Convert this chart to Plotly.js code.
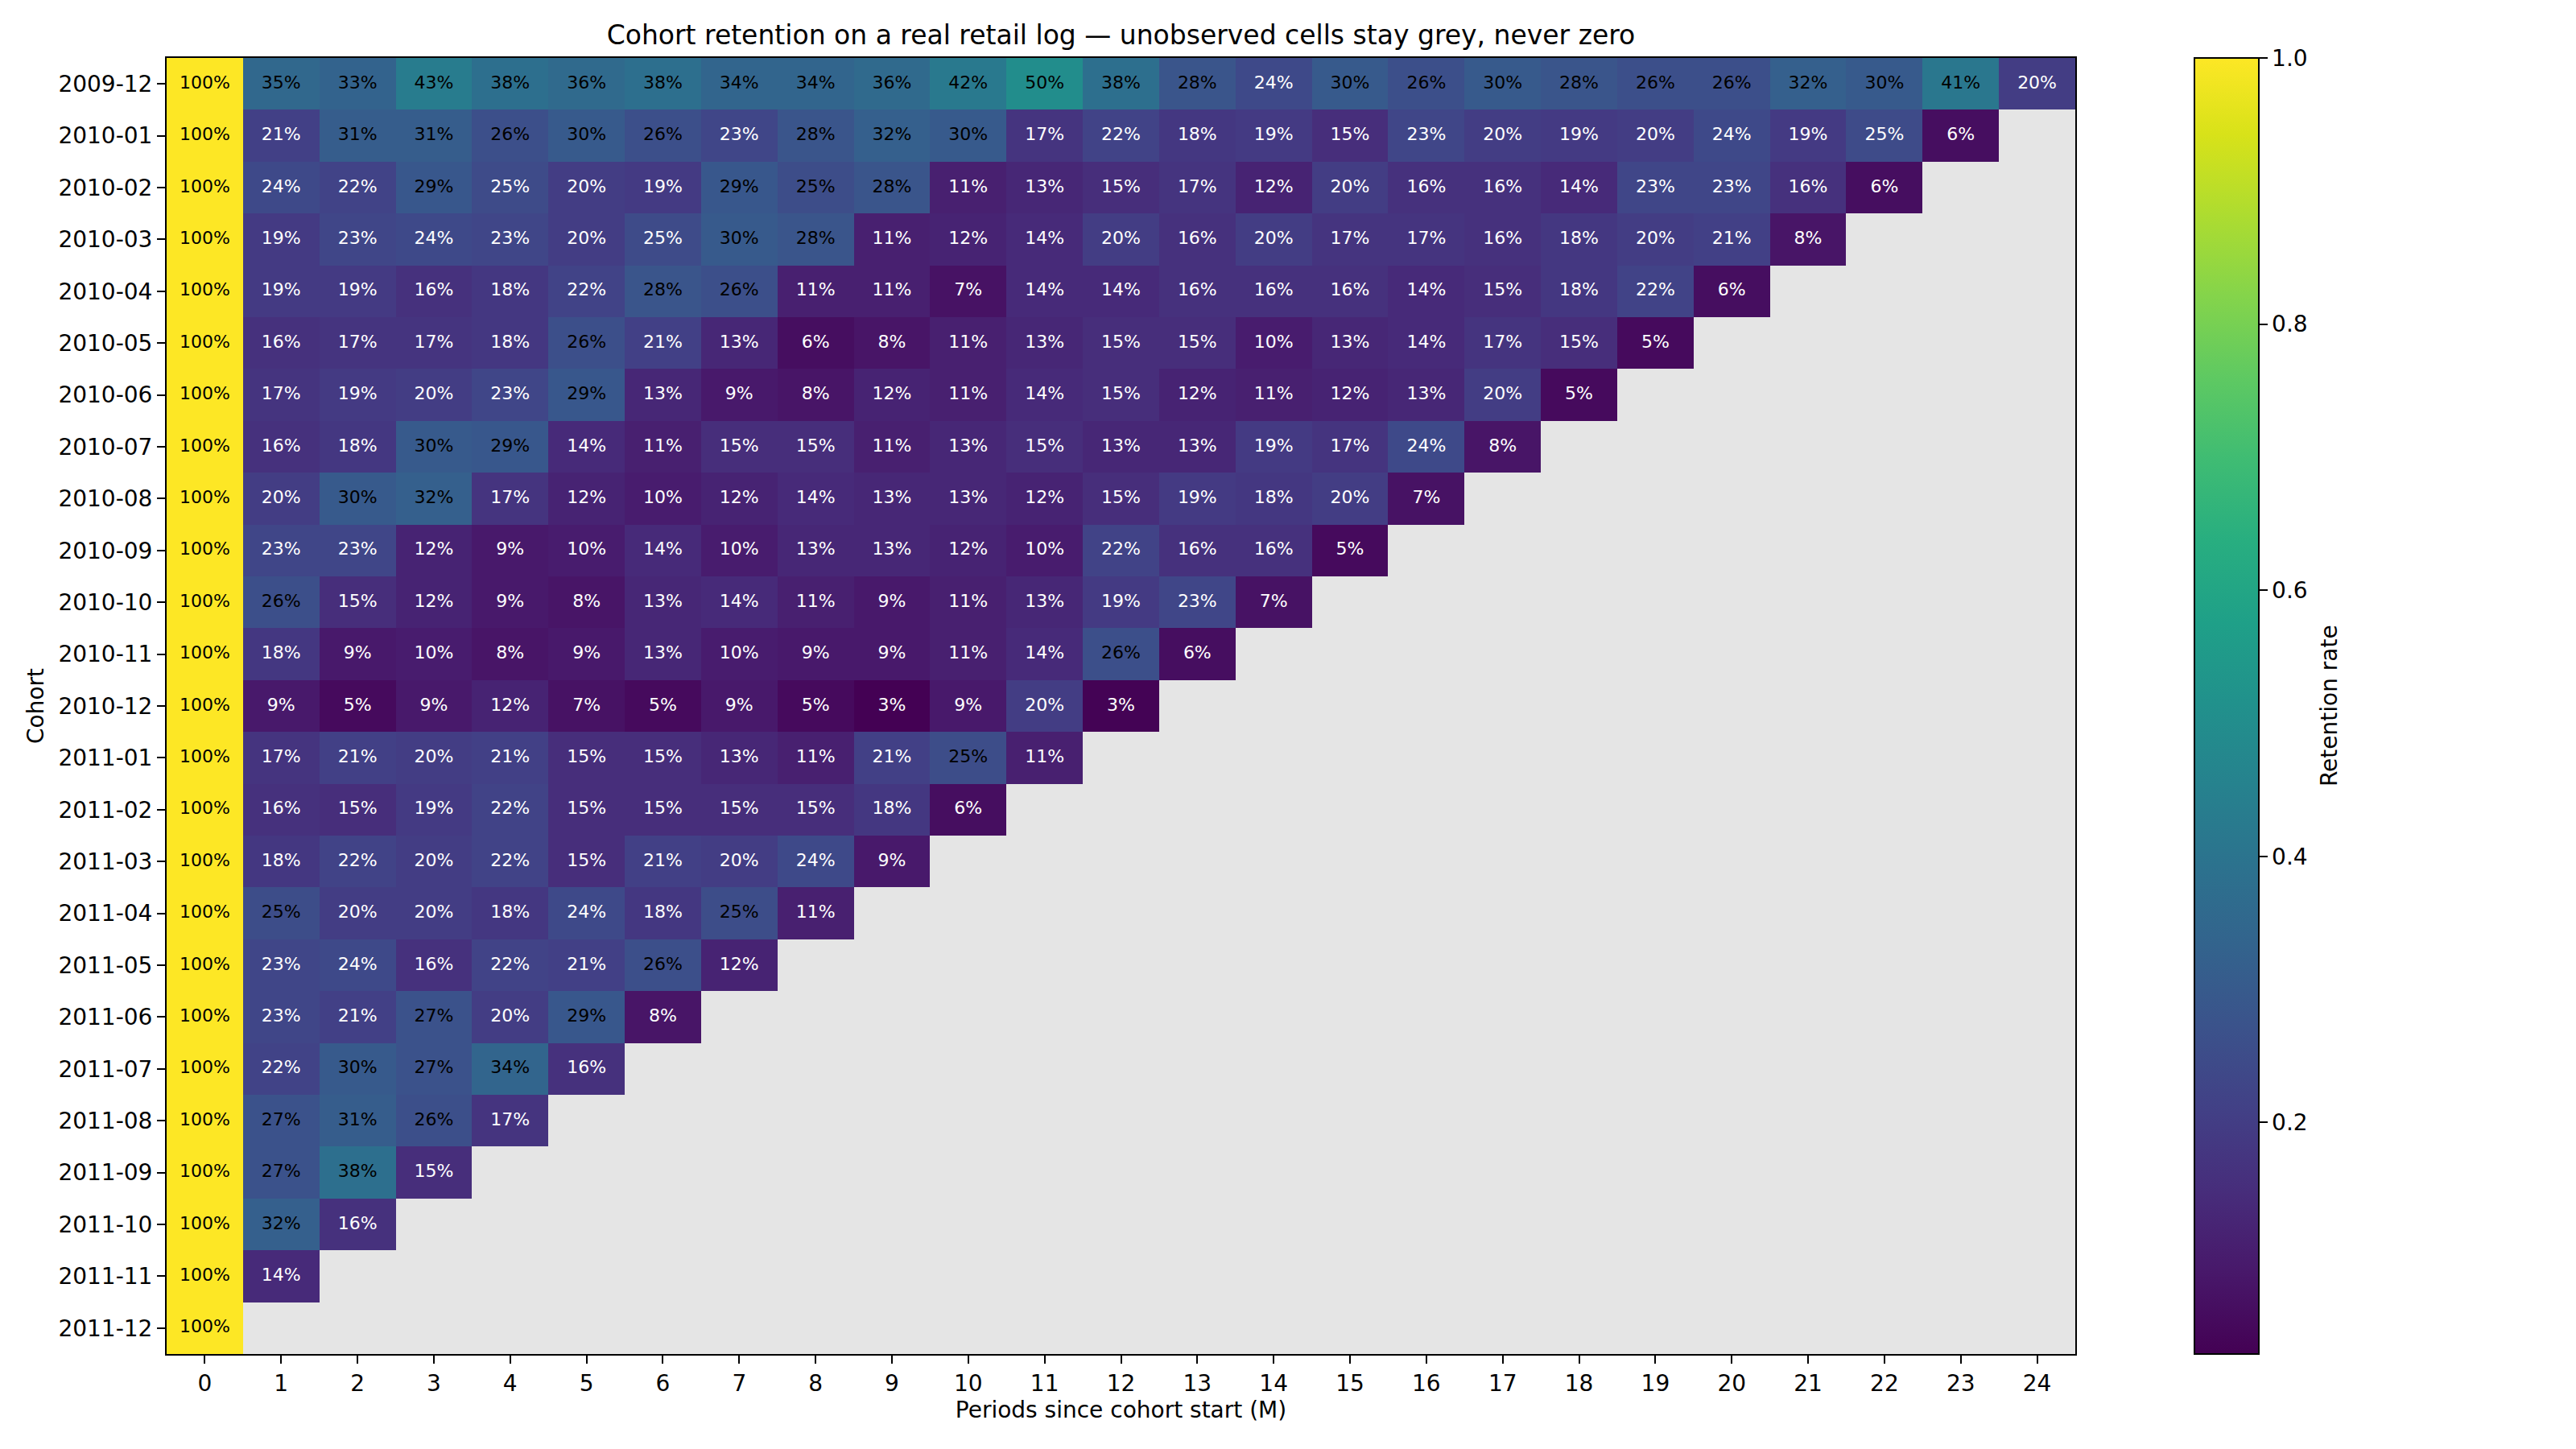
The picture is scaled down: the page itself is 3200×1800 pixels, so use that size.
<!DOCTYPE html>
<html>
<head>
<meta charset="utf-8">
<script src="https://cdn.plot.ly/plotly-3.0.1.min.js"></script>
<style>
  html, body { margin: 0; padding: 0; background: #ffffff; }
  #chart { width: 3200px; height: 1800px; }
</style>
</head>
<body>
<div id="chart"></div>
<script>
// cohort labels (rows, top to bottom)
const cohorts = [
  '2009-12', '2010-01', '2010-02', '2010-03', '2010-04', '2010-05', '2010-06',
  '2010-07', '2010-08', '2010-09', '2010-10', '2010-11', '2010-12', '2011-01',
  '2011-02', '2011-03', '2011-04', '2011-05', '2011-06', '2011-07', '2011-08',
  '2011-09', '2011-10', '2011-11', '2011-12'
];

// periods since cohort start (columns)
const periods = [0, 1, 2, 3, 4, 5, 6, 7, 8, 9, 10, 11, 12, 13, 14, 15, 16, 17, 18, 19, 20, 21, 22, 23, 24];

const retention = [
  [1.00, 0.35, 0.33, 0.43, 0.38, 0.36, 0.38, 0.34, 0.34, 0.36, 0.42, 0.50, 0.38, 0.28, 0.24, 0.30, 0.26, 0.30, 0.28, 0.26, 0.26, 0.32, 0.30, 0.41, 0.20],
  [1.00, 0.21, 0.31, 0.31, 0.26, 0.30, 0.26, 0.23, 0.28, 0.32, 0.30, 0.17, 0.22, 0.18, 0.19, 0.15, 0.23, 0.20, 0.19, 0.20, 0.24, 0.19, 0.248, 0.06],
  [1.00, 0.24, 0.22, 0.29, 0.248, 0.20, 0.19, 0.29, 0.252, 0.28, 0.11, 0.13, 0.15, 0.17, 0.12, 0.20, 0.16, 0.16, 0.14, 0.23, 0.23, 0.16, 0.06],
  [1.00, 0.19, 0.23, 0.24, 0.23, 0.20, 0.248, 0.30, 0.28, 0.11, 0.12, 0.14, 0.20, 0.16, 0.20, 0.17, 0.17, 0.16, 0.18, 0.20, 0.21, 0.08],
  [1.00, 0.19, 0.19, 0.16, 0.18, 0.22, 0.28, 0.26, 0.11, 0.11, 0.07, 0.14, 0.14, 0.16, 0.16, 0.16, 0.14, 0.15, 0.18, 0.22, 0.06],
  [1.00, 0.16, 0.17, 0.17, 0.18, 0.26, 0.21, 0.13, 0.06, 0.08, 0.11, 0.13, 0.15, 0.15, 0.10, 0.13, 0.14, 0.17, 0.15, 0.05],
  [1.00, 0.17, 0.19, 0.20, 0.23, 0.29, 0.13, 0.09, 0.08, 0.12, 0.11, 0.14, 0.15, 0.12, 0.11, 0.12, 0.13, 0.20, 0.05],
  [1.00, 0.16, 0.18, 0.30, 0.29, 0.14, 0.11, 0.15, 0.15, 0.11, 0.13, 0.15, 0.13, 0.13, 0.19, 0.17, 0.24, 0.08],
  [1.00, 0.20, 0.30, 0.32, 0.17, 0.12, 0.10, 0.12, 0.14, 0.13, 0.13, 0.12, 0.15, 0.19, 0.18, 0.20, 0.07],
  [1.00, 0.23, 0.23, 0.12, 0.09, 0.10, 0.14, 0.10, 0.13, 0.13, 0.12, 0.10, 0.22, 0.16, 0.16, 0.05],
  [1.00, 0.26, 0.15, 0.12, 0.09, 0.08, 0.13, 0.14, 0.11, 0.09, 0.11, 0.13, 0.19, 0.23, 0.07],
  [1.00, 0.18, 0.09, 0.10, 0.08, 0.09, 0.13, 0.10, 0.09, 0.09, 0.11, 0.14, 0.26, 0.06],
  [1.00, 0.09, 0.05, 0.09, 0.12, 0.07, 0.05, 0.09, 0.05, 0.026, 0.09, 0.20, 0.03],
  [1.00, 0.17, 0.21, 0.20, 0.21, 0.15, 0.15, 0.13, 0.11, 0.21, 0.252, 0.11],
  [1.00, 0.16, 0.15, 0.19, 0.22, 0.15, 0.15, 0.15, 0.15, 0.18, 0.06],
  [1.00, 0.18, 0.22, 0.20, 0.22, 0.15, 0.21, 0.20, 0.24, 0.09],
  [1.00, 0.252, 0.20, 0.20, 0.18, 0.24, 0.18, 0.252, 0.11],
  [1.00, 0.23, 0.24, 0.16, 0.22, 0.21, 0.26, 0.12],
  [1.00, 0.23, 0.21, 0.27, 0.20, 0.29, 0.08],
  [1.00, 0.22, 0.30, 0.27, 0.34, 0.16],
  [1.00, 0.27, 0.31, 0.26, 0.17],
  [1.00, 0.27, 0.38, 0.15],
  [1.00, 0.32, 0.16],
  [1.00, 0.14],
  [1.00]
];

const colorbarTicks = [0.2, 0.4, 0.6, 0.8, 1.0];

const FONT = 'DejaVu Sans, Liberation Sans, sans-serif';

// grid with nulls for unobserved cells -> they show the grey plot background
const z = retention.map(row => periods.map((p, i) => (i < row.length ? row[i] : null)));
const allVals = retention.flat();
const zmin = Math.min(...allVals);
const zmax = Math.max(...allVals);

// labels: dark text on bright cells, white text on dark cells
const tx = [], ty = [], tt = [], tc = [];
retention.forEach((row, r) => {
  row.forEach((v, c) => {
    tx.push(periods[c]);
    ty.push(cohorts[r]);
    tt.push(Math.round(v * 100) + '%');
    tc.push(v >= 0.25 ? '#000000' : '#ffffff');
  });
});

const heat = {
  type: 'heatmap',
  x: periods,
  y: cohorts,
  z: z,
  zmin: zmin,
  zmax: zmax,
  colorscale: 'Viridis',
  hoverongaps: false,
  colorbar: {
    x: 1.0624,
    xanchor: 'left',
    xpad: 0,
    ypad: 0,
    y: 0.5,
    yanchor: 'middle',
    len: 1,
    lenmode: 'fraction',
    thickness: 80,
    thicknessmode: 'pixels',
    outlinewidth: 2,
    outlinecolor: '#000000',
    ticks: 'outside',
    ticklen: 10,
    tickwidth: 2,
    tickcolor: '#000000',
    tickmode: 'array',
    tickvals: colorbarTicks,
    ticktext: colorbarTicks.map(v => v.toFixed(1)),
    tickfont: { family: FONT, size: 28, color: '#000000' }
  }
};

const labels = {
  type: 'scatter',
  mode: 'text',
  x: tx,
  y: ty,
  text: tt,
  textposition: 'middle center',
  textfont: { family: FONT, size: 22, color: tc },
  hoverinfo: 'skip',
  showlegend: false
};

const layout = {
  width: 3200,
  height: 1800,
  margin: { l: 207, r: 622, t: 72, b: 118, pad: 0 },
  paper_bgcolor: '#ffffff',
  plot_bgcolor: '#e5e5e5',
  font: { family: FONT, size: 28, color: '#000000' },
  title: {
    text: 'Cohort retention on a real retail log — unobserved cells stay grey, never zero',
    font: { family: FONT, size: 33, color: '#000000' },
    x: 0.5, xref: 'paper', xanchor: 'center',
    y: 1 - 43 / 1800, yref: 'container', yanchor: 'middle'
  },
  xaxis: {
    range: [-0.5, 24.5],
    tickmode: 'array',
    tickvals: periods,
    ticktext: periods.map(String),
    ticks: 'outside', ticklen: 10, tickwidth: 2, tickcolor: '#000000',
    tickfont: { family: FONT, size: 28, color: '#000000' },
    showgrid: false, zeroline: false,
    showline: true, mirror: true, linecolor: '#000000', linewidth: 2,
    title: { text: 'Periods since cohort start (M)', standoff: 8, font: { family: FONT, size: 28, color: '#000000' } }
  },
  yaxis: {
    type: 'category',
    range: [cohorts.length - 0.5, -0.5],
    ticks: 'outside', ticklen: 10, tickwidth: 2, tickcolor: '#000000',
    tickfont: { family: FONT, size: 28, color: '#000000' },
    showgrid: false, zeroline: false,
    showline: true, mirror: true, linecolor: '#000000', linewidth: 2,
    title: { text: 'Cohort', standoff: 10, font: { family: FONT, size: 28, color: '#000000' } }
  },
  annotations: [{
    text: 'Retention rate',
    xref: 'paper', yref: 'paper',
    x: 1.1329, y: 0.5,
    xanchor: 'center', yanchor: 'middle',
    textangle: -90,
    showarrow: false,
    font: { family: FONT, size: 28, color: '#000000' }
  }]
};

Plotly.newPlot('chart', [heat, labels], layout, { displayModeBar: false, responsive: false });
</script>
</body>
</html>
